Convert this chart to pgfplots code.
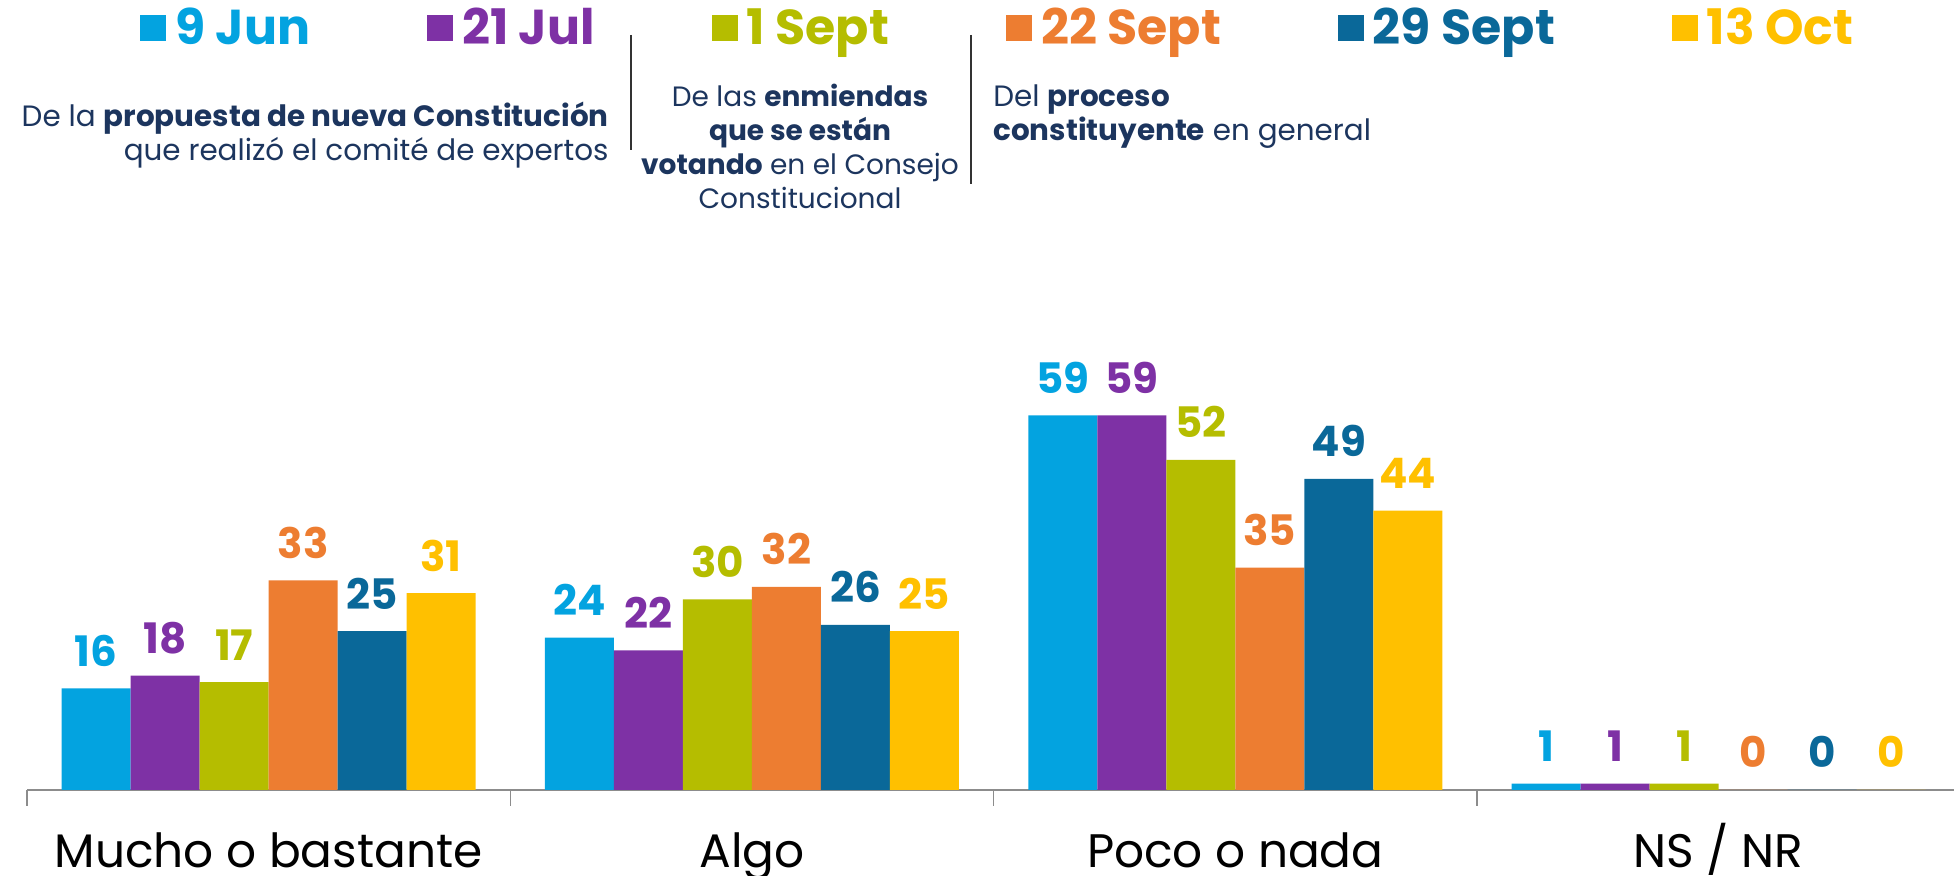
\documentclass[border=0pt]{standalone}
\usepackage{fontspec}
\setmainfont{Poppins}
\usepackage{pgfplots}
\pgfplotsset{compat=1.18}

\definecolor{cjun}{HTML}{03A3E0}
\definecolor{cjul}{HTML}{7E31A5}
\definecolor{csep}{HTML}{B5BD00}
\definecolor{csepb}{HTML}{ED7D31}
\definecolor{csepc}{HTML}{0A6899}
\definecolor{coct}{HTML}{FFC000}
\definecolor{navy}{HTML}{1C355E}

\pgfplotsset{
  sq/.style={legend image code/.code={\fill[##1] (0pt,-6.5pt) rectangle (13pt,6.5pt);}},
  barlab/.style={every node near coord/.append style={text=#1}},
}

\begin{document}
\begin{tikzpicture}
\begin{axis}[
  scale only axis, width=963.5pt, height=395pt,
  ybar=0pt, bar width=34.5pt,
  xmin=-0.5, xmax=3.487, ymin=0, ymax=124.4,
  axis x line*=bottom, axis y line=none,
  x axis line style={draw=black!45, line width=1pt},
  xtick={0,1,2,3},
  xticklabels={Mucho o bastante, Algo, Poco o nada, NS / NR},
  major tick length=0pt,
  minor xtick={-0.5,0.5,1.5,2.5},
  minor tick length=8pt, tick align=outside,
  minor tick style={draw=black!45, line width=0.6pt},
  xticklabel style={font=\fontsize{23.5}{28}\selectfont, anchor=base, yshift=-39pt},
  /pgf/number format/assume math mode=true,
  nodes near coords,
  every node near coord/.append style={font=\bfseries\fontsize{21}{25}\selectfont, anchor=base, yshift=11pt},
  legend columns=6,
  legend style={draw=none, fill=none, inner sep=0pt,
    at={(rel axis cs:0.0586,0.9646)}, anchor=west,
    font=\bfseries\fontsize{24.5}{28}\selectfont,
    /tikz/every odd column/.append style={column sep=2.5pt},
    /tikz/every even column/.append style={column sep=56.5pt}},
]
\addplot[fill=cjun, draw=none, sq, barlab=cjun] coordinates {(0,16) (1,24) (2,59) (3,1)};
\addlegendentry{\textcolor{cjun}{9 Jun}}
\addplot[fill=cjul, draw=none, sq, barlab=cjul] coordinates {(0,18) (1,22) (2,59) (3,1)};
\addlegendentry{\textcolor{cjul}{21 Jul}}
\addplot[fill=csep, draw=none, sq, barlab=csep] coordinates {(0,17) (1,30) (2,52) (3,1)};
\addlegendentry{\textcolor{csep}{1 Sept}}
\addplot[fill=csepb, draw=none, sq, barlab=csepb] coordinates {(0,33) (1,32) (2,35) (3,0)};
\addlegendentry{\textcolor{csepb}{22 Sept}}
\addplot[fill=csepc, draw=none, sq, barlab=csepc] coordinates {(0,25) (1,26) (2,49) (3,0)};
\addlegendentry{\textcolor{csepc}{29 Sept}}
\addplot[fill=coct, draw=none, sq, barlab=coct] coordinates {(0,31) (1,25) (2,44) (3,0)};
\addlegendentry{\textcolor{coct}{13 Oct}}
\end{axis}

\begin{scope}[every node/.style={text=navy, font=\fontsize{14.7}{17}\selectfont, inner sep=0pt}]
  \node[anchor=base east] at (291pt,331.5pt) {De la \textbf{propuesta de nueva Constitución}};
  \node[anchor=base east] at (291pt,314.5pt) {que realizó el comité de expertos};
  \node[anchor=base west] at (483pt,341.5pt) {Del \textbf{proceso}};
  \node[anchor=base west] at (483pt,324.5pt) {\textbf{constituyente} en general};
\end{scope}
\begin{scope}[every node/.style={text=navy, font=\fontsize{14}{17}\selectfont, inner sep=0pt}]
  \node[anchor=base] at (386.5pt,341.5pt) {De las \textbf{enmiendas}};
  \node[anchor=base] at (386.5pt,324.5pt) {\textbf{que se están}};
  \node[anchor=base] at (386.5pt,307.5pt) {\textbf{votando} en el Consejo};
  \node[anchor=base] at (386.5pt,290.5pt) {Constitucional};
\end{scope}
\draw[black!80, line width=0.7pt] (302pt,377.5pt) -- (302pt,320pt);
\draw[black!80, line width=0.7pt] (472pt,377.5pt) -- (472pt,303pt);

\pgfresetboundingbox
\path[use as bounding box] (-13.5pt,-43pt) rectangle (963.5pt,395pt);
\end{tikzpicture}
\end{document}
